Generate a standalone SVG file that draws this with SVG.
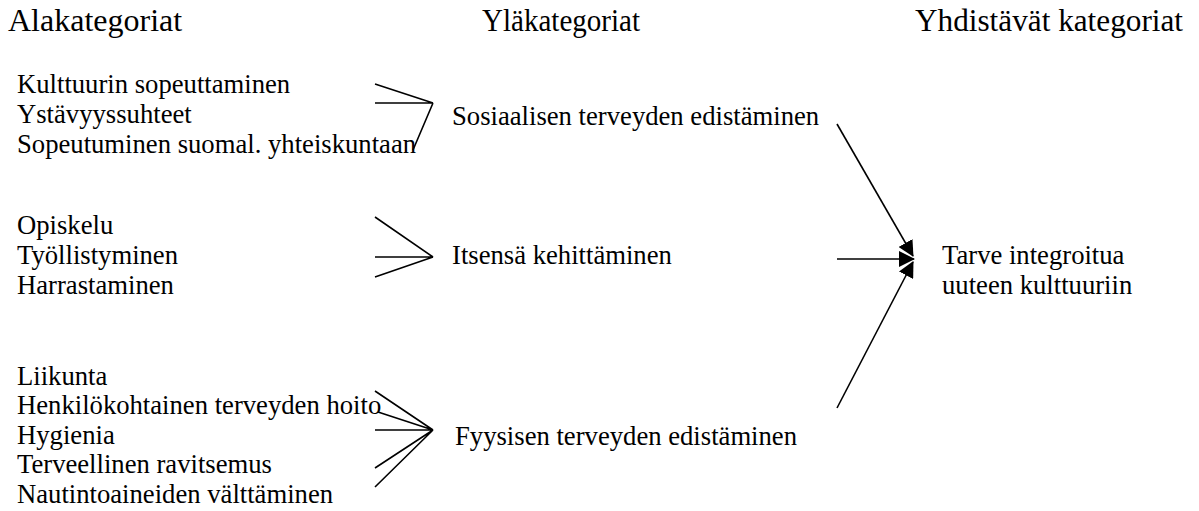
<svg xmlns="http://www.w3.org/2000/svg" width="1199" height="511" viewBox="0 0 1199 511">
<defs>
<style>
text{font-family:"Liberation Serif","Times New Roman",serif;fill:#000}
.h{font-size:32px}
.t{font-size:26.67px}
.ln{stroke:#000;stroke-width:1.6;fill:none}
</style>
<marker id="ah" markerUnits="userSpaceOnUse" markerWidth="16" markerHeight="16" refX="15" refY="8" orient="auto" viewBox="0 0 16 16">
<path d="M0,0 L16,8 L0,16 Z" fill="#000"/>
</marker>
</defs>
<rect width="1199" height="511" fill="#fff"/>
<g id="headers">
<text class="h" x="8" y="31">Alakategoriat</text>
<text class="h" x="482" y="31" textLength="158" lengthAdjust="spacingAndGlyphs">Yläkategoriat</text>
<text class="h" x="915" y="31" textLength="268" lengthAdjust="spacingAndGlyphs">Yhdistävät kategoriat</text>
</g>
<g id="sub1">
<text class="t" x="17" y="93">Kulttuurin sopeuttaminen</text>
<text class="t" x="17" y="123">Ystävyyssuhteet</text>
<text class="t" x="17" y="153">Sopeutuminen suomal. yhteiskuntaan</text>
</g>
<g id="sub2">
<text class="t" x="17" y="234">Opiskelu</text>
<text class="t" x="17" y="264">Työllistyminen</text>
<text class="t" x="17" y="294">Harrastaminen</text>
</g>
<g id="sub3">
<text class="t" x="17" y="385">Liikunta</text>
<text class="t" x="17" y="414">Henkilökohtainen terveyden hoito</text>
<text class="t" x="17" y="444">Hygienia</text>
<text class="t" x="17" y="473">Terveellinen ravitsemus</text>
<text class="t" x="17" y="503">Nautintoaineiden välttäminen</text>
</g>
<g id="upper1"><text class="t" x="452" y="125">Sosiaalisen terveyden edistäminen</text></g>
<g id="upper2"><text class="t" x="452" y="264">Itsensä kehittäminen</text></g>
<g id="upper3"><text class="t" x="455" y="445">Fyysisen terveyden edistäminen</text></g>
<g id="combined">
<text class="t" x="942" y="264">Tarve integroitua</text>
<text class="t" x="942" y="294">uuteen kulttuuriin</text>
</g>
<g id="connectors">
<path class="ln" d="M375,84 L433,103 M375,103 L433,103 M413,150 L433,103"/>
<path class="ln" d="M375,217 L433,257 M375,257 L433,257 M375,277 L433,257"/>
<path class="ln" d="M375,391 L433,430 M378,412 L433,430 M375,430 L433,430 M375,468 L433,430 M375,487 L433,430"/>
<line class="ln" x1="837" y1="124" x2="913" y2="256" marker-end="url(#ah)"/>
<line class="ln" x1="837" y1="259" x2="914" y2="259" marker-end="url(#ah)"/>
<line class="ln" x1="837" y1="408" x2="913" y2="262" marker-end="url(#ah)"/>
</g>
</svg>
